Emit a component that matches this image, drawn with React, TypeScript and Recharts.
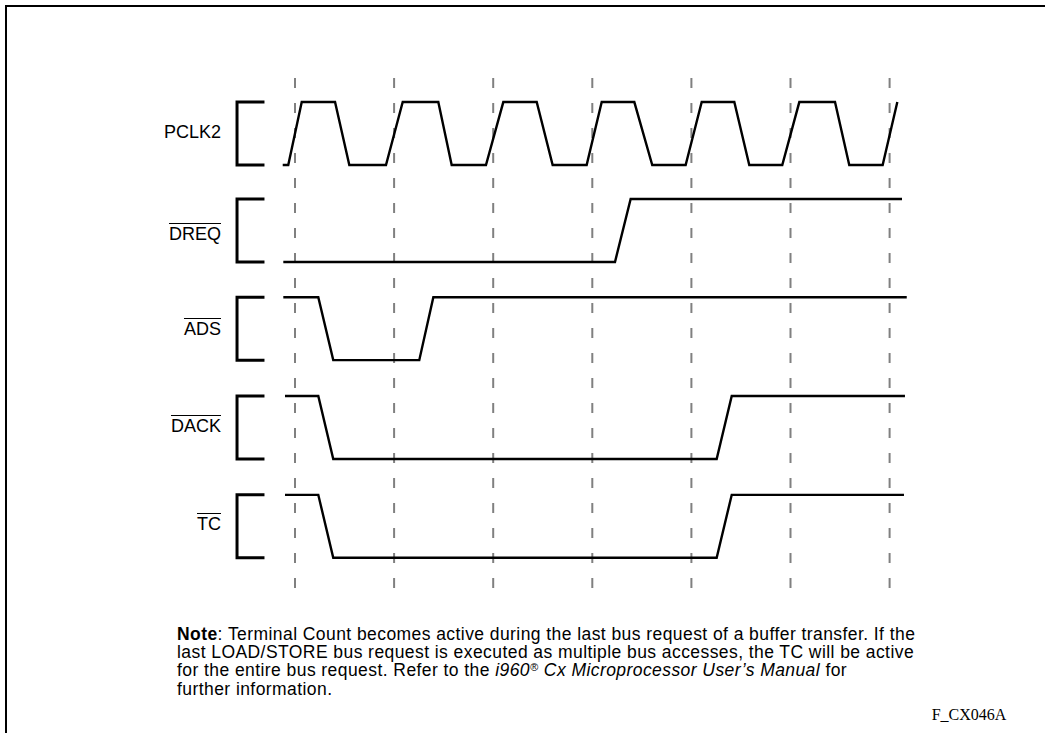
import React from "react";
import { LineChart, Line, XAxis, YAxis, ReferenceLine } from "recharts";

// ---- data (time in clock periods, level 0 = low, 1 = high) ----
const CLOCK_EDGES = [0, 1, 2, 3, 4, 5, 6];

const PCLK2_T = [-0.124, -0.068, 0.068, 0.404, 0.548, 0.918, 1.087, 1.446, 1.581, 1.927, 2.102, 2.439, 2.6, 2.943, 3.095, 3.424, 3.605, 3.942, 4.104, 4.433, 4.584, 4.917, 5.089, 5.449, 5.593, 5.93, 6.078];
const PCLK2_L = [0, 0, 1, 1, 0, 0, 1, 1, 0, 0, 1, 1, 0, 0, 1, 1, 0, 0, 1, 1, 0, 0, 1, 1, 0, 0, 1];

const DREQ_T = [-0.118, 3.229, 3.387, 6.125];
const DREQ_L = [0, 0, 1, 1];

const ADS_T = [-0.118, 0.235, 0.386, 1.254, 1.396, 6.173];
const ADS_L = [1, 1, 0, 0, 1, 1];

const DACK_T = [-0.101, 0.235, 0.386, 4.255, 4.407, 6.155];
const DACK_L = [1, 1, 0, 0, 1, 1];

const TC_T = [-0.101, 0.235, 0.386, 4.255, 4.407, 6.145];
const TC_L = [1, 1, 0, 0, 1, 1];

const SIGNAL_NAMES = ["PCLK2", "DREQ", "ADS", "DACK", "TC"];
const SIGNAL_OVERLINE = [false, true, true, true, true];

const NOTE_LINE_1 = ": Terminal Count becomes active during the last bus request of a buffer transfer. If the";
const NOTE_LINE_2 = "last LOAD/STORE bus request is executed as multiple bus accesses, the TC will be active";
const NOTE_LINE_3A = "for the entire bus request. Refer to the ";
const NOTE_LINE_3B = "i960";
const NOTE_LINE_3C = " Cx Microprocessor User\u2019s Manual";
const NOTE_LINE_3D = " for";
const NOTE_LINE_4 = "further information.";
const FIGURE_ID = "F_CX046A";

// ---- layout ----
const W = 1045;
const H = 733;
const X_DOMAIN: [number, number] = [-2.5, 7.5];
const Y_DOMAIN: [number, number] = [-0.48, 7.67];
const MARGIN = { top: 75, bottom: 145, left: 47.25, right: 6.75 };
const LANE_OFFSETS = [6.24, 4.7, 3.14, 1.57, 0];
const BRACKET_X = -0.585;
const BRACKET_ARM = -0.308;
const LABEL_BASELINES = [138.3, 240.7, 335.7, 432, 530.7];

const SERIES = [
  [PCLK2_T, PCLK2_L],
  [DREQ_T, DREQ_L],
  [ADS_T, ADS_L],
  [DACK_T, DACK_L],
  [TC_T, TC_L],
];

const build = (ts: number[], ls: number[], lane: number) =>
  ts.map((t, i) => ({ t, v: ls[i] + LANE_OFFSETS[lane] }));

const bracket = (lane: number) => [
  { t: BRACKET_ARM, v: LANE_OFFSETS[lane] + 1 },
  { t: BRACKET_X, v: LANE_OFFSETS[lane] + 1 },
  { t: BRACKET_X, v: LANE_OFFSETS[lane] },
  { t: BRACKET_ARM, v: LANE_OFFSETS[lane] },
];

const LABEL_FONT = 18;
const NOTE_FONT = 17.5;
const NOTE_LH = 18.4;
const NOTE_TOP = 624.5;

const noteLine = (i: number): React.CSSProperties => ({
  position: "absolute",
  left: 177,
  top: NOTE_TOP + i * NOTE_LH,
  height: NOTE_LH,
  fontFamily: "'Liberation Sans', Arial, sans-serif",
  fontSize: NOTE_FONT,
  letterSpacing: "0.43px",
  lineHeight: NOTE_LH + "px",
  color: "#000",
  whiteSpace: "nowrap",
});

export default function App() {
  return (
    <div style={{ position: "absolute", left: 0, top: 0, width: W, height: H, background: "#fff", overflow: "hidden" }}>
      <div
        style={{
          position: "absolute",
          left: 5,
          top: 5,
          width: W,
          height: H,
          borderTop: "2px solid #000",
          borderLeft: "2px solid #000",
        }}
      />
      <div style={{ position: "absolute", left: 0, top: 0 }}>
        <LineChart width={W} height={H} margin={MARGIN}>
          <XAxis type="number" dataKey="t" domain={X_DOMAIN} allowDataOverflow hide />
          <YAxis type="number" dataKey="v" domain={Y_DOMAIN} allowDataOverflow hide />
          {CLOCK_EDGES.map((x) => (
            <ReferenceLine key={"r" + x} x={x} stroke="#808080" strokeWidth={2} strokeDasharray="10 15" />
          ))}
          {SERIES.map(([ts, ls], i) => (
            <Line
              key={"b" + i}
              data={bracket(i)}
              dataKey="v"
              type="linear"
              stroke="#000"
              strokeWidth={3}
              dot={false}
              activeDot={false}
              isAnimationActive={false}
              strokeLinejoin="miter"
            />
          ))}
          {SERIES.map(([ts, ls], i) => (
            <Line
              key={"s" + i}
              data={build(ts as number[], ls as number[], i)}
              dataKey="v"
              type="linear"
              stroke="#000"
              strokeWidth={2.4}
              dot={false}
              activeDot={false}
              isAnimationActive={false}
              strokeLinejoin="miter"
            />
          ))}
        </LineChart>
      </div>
      {SIGNAL_NAMES.map((name, i) => (
        <div
          key={name}
          style={{
            position: "absolute",
            right: W - 221,
            top: LABEL_BASELINES[i] - 0.8465 * LABEL_FONT,
            fontFamily: "'Liberation Sans', Arial, sans-serif",
            fontSize: LABEL_FONT,
            lineHeight: 1,
            color: "#000",
            textDecoration: SIGNAL_OVERLINE[i] ? "overline" : "none",
            whiteSpace: "nowrap",
          }}
        >
          {name}
        </div>
      ))}
      <div style={noteLine(0)}>
        <b>Note</b>
        {NOTE_LINE_1}
      </div>
      <div style={noteLine(1)}>{NOTE_LINE_2}</div>
      <div style={noteLine(2)}>
        {NOTE_LINE_3A}
        <i>
          {NOTE_LINE_3B}
          <span style={{ position: "relative", top: "-5.5px", fontSize: 11, lineHeight: 0 }}>®</span>
          {NOTE_LINE_3C}
        </i>
        {NOTE_LINE_3D}
      </div>
      <div style={noteLine(3)}>{NOTE_LINE_4}</div>
      <div
        style={{
          position: "absolute",
          left: 931.7,
          top: 721.7 - 0.891 * 16 - 0.5,
          fontFamily: "'Liberation Serif', 'Times New Roman', serif",
          fontSize: 16,
          lineHeight: 1,
          color: "#000",
          whiteSpace: "nowrap",
        }}
      >
        {FIGURE_ID}
      </div>
    </div>
  );
}
